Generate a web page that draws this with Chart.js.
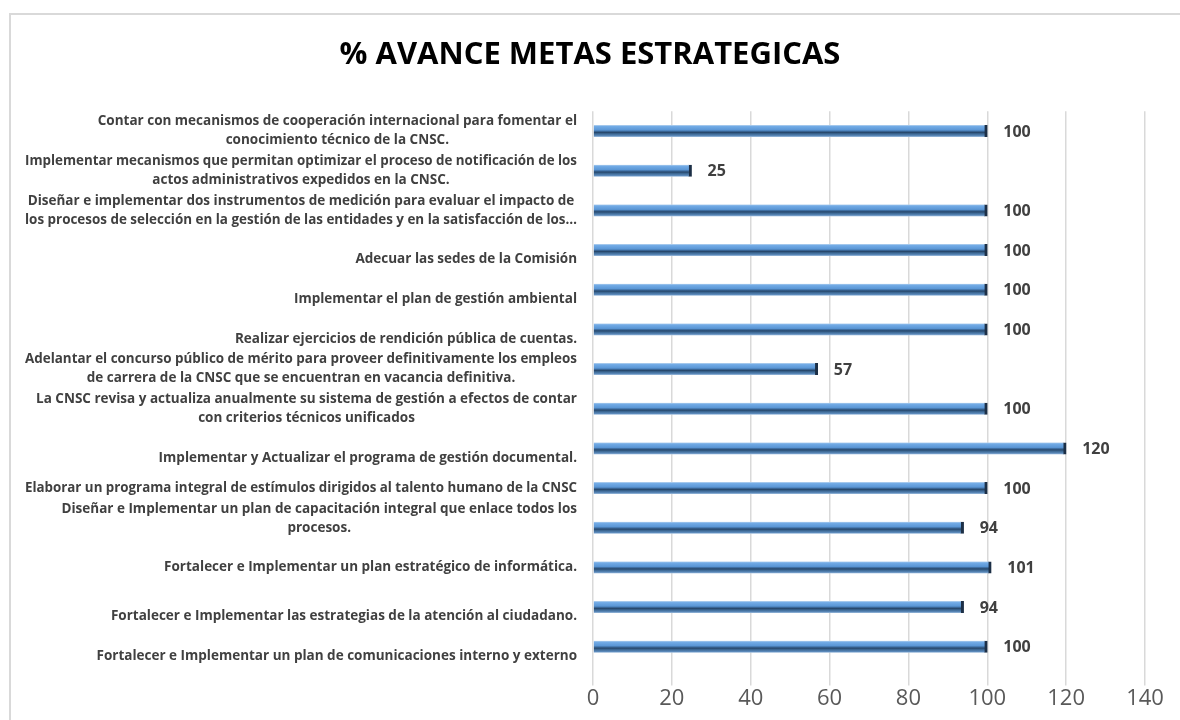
<!DOCTYPE html>
<html>
<head>
<meta charset="utf-8">
<script src="https://cdn.jsdelivr.net/npm/chart.js@4"></script>
<style>
  body { margin: 0; background: #fff; }
  #wrap { position: relative; width: 1180px; height: 720px; overflow: hidden; }
  #frame { position: absolute; left: 9px; top: 13px; width: 1200px; height: 740px;
           border-left: 2px solid #d9d9d9; border-top: 2px solid #d9d9d9; pointer-events: none; }
</style>
</head>
<body>
<div id="wrap">
  <canvas id="metasChart" width="1180" height="720"></canvas>
  <div id="frame"></div>
</div>
<script>
  // metas (las lineas vacias imitan la posicion de las etiquetas en el original)
  const metas = [
    ['Contar con mecanismos de cooperación internacional para fomentar el', 'conocimiento técnico de la CNSC.'],
    ['Implementar mecanismos que permitan optimizar el proceso de notificación de los', 'actos administrativos expedidos en la CNSC.'],
    ['Diseñar e implementar dos instrumentos de medición para evaluar el impacto de', 'los procesos de selección en la gestión de las entidades y en la satisfacción de los…'],
    ['', 'Adecuar las sedes de la Comisión'],
    ['', 'Implementar el plan de gestión ambiental'],
    ['', 'Realizar ejercicios de rendición pública de cuentas.'],
    ['Adelantar el concurso público de mérito para proveer definitivamente los empleos', 'de carrera de la CNSC que se encuentran en vacancia definitiva.'],
    ['La CNSC revisa y actualiza anualmente su sistema de gestión a efectos de contar', 'con criterios técnicos unificados'],
    ['', 'Implementar y Actualizar el programa de gestión documental.'],
    ['Elaborar un programa integral de estímulos dirigidos al talento humano de la CNSC'],
    ['Diseñar e Implementar un plan de capacitación integral que enlace todos los', 'procesos.', ''],
    ['Fortalecer e Implementar un plan estratégico de informática.'],
    ['', 'Fortalecer e Implementar las estrategias de la atención al ciudadano.'],
    ['', 'Fortalecer e Implementar un plan de comunicaciones interno y externo']
  ];
  const avance = [100, 25, 100, 100, 100, 100, 57, 100, 120, 100, 94, 101, 94, 100];
  const ejeMin = 0;
  const ejeMax = 140;
  const ejePaso = 20;

  const fuente = '"Open Sans", "Liberation Sans", sans-serif';

  // relleno tipo cilindro para cada barra
  function rellenoBarra(context) {
    const chart = context.chart;
    const y = chart.scales.y;
    if (!chart.chartArea || !y || context.type !== 'data') return '#5b9bd5';
    const c = y.getPixelForValue(context.dataIndex);
    if (!isFinite(c)) return '#5b9bd5';
    const g = chart.ctx.createLinearGradient(0, c - 6, 0, c + 6);
    g.addColorStop(0, '#b9d4ef');
    g.addColorStop(0.12, '#72abe6');
    g.addColorStop(0.42, '#5a96d5');
    g.addColorStop(0.52, '#3c6a9c');
    g.addColorStop(0.62, '#27486c');
    g.addColorStop(0.74, '#3d6995');
    g.addColorStop(0.9, '#5c8abb');
    g.addColorStop(1, '#adc8e4');
    return g;
  }

  // etiquetas de categoria centradas linea por linea
  const etiquetasMetas = {
    id: 'etiquetasMetas',
    afterDraw(chart) {
      const { ctx } = chart;
      const yScale = chart.scales.y;
      const derecha = chart.chartArea.left - 16;
      const alto = 19;
      const maximo = 552;
      ctx.save();
      ctx.font = 'bold 13.5px ' + fuente;
      ctx.fillStyle = '#404040';
      ctx.textAlign = 'center';
      ctx.textBaseline = 'middle';
      metas.forEach((lineas, i) => {
        const y = yScale.getPixelForTick(i);
        const ancho = Math.min(maximo, Math.max(...lineas.map(l => ctx.measureText(l).width)));
        const cx = derecha - ancho / 2;
        lineas.forEach((linea, j) => {
          if (!linea) return;
          ctx.fillText(linea, cx, y + (j - (lineas.length - 1) / 2) * alto, maximo);
        });
      });
      ctx.restore();
    }
  };

  // valores al final de cada barra
  const valoresBarras = {
    id: 'valoresBarras',
    afterDatasetsDraw(chart) {
      const { ctx } = chart;
      const meta = chart.getDatasetMeta(0);
      ctx.save();
      ctx.font = 'bold 16px ' + fuente;
      ctx.fillStyle = '#404040';
      ctx.textAlign = 'left';
      ctx.textBaseline = 'middle';
      meta.data.forEach((bar, i) => {
        ctx.fillText(String(avance[i]), bar.x + 16, bar.y + 1);
      });
      ctx.restore();
    }
  };

  const ctx = document.getElementById('metasChart').getContext('2d');
  const metasChart = new Chart(ctx, {
    type: 'bar',
    data: {
      labels: metas,
      datasets: [{
        data: avance,
        backgroundColor: rellenoBarra,
        borderColor: '#1c2f46',
        borderWidth: { top: 0, right: 3, bottom: 0, left: 0 },
        borderSkipped: false,
        barThickness: 12
      }]
    },
    options: {
      indexAxis: 'y',
      responsive: false,
      animation: false,
      layout: { padding: { left: 0, right: 0, top: 0, bottom: 8 } },
      plugins: {
        legend: { display: false },
        tooltip: { enabled: false },
        title: {
          display: true,
          text: '% AVANCE METAS ESTRATEGICAS',
          color: '#000000',
          font: { family: fuente, size: 31, weight: 'bold' },
          padding: { top: 37, bottom: 37 }
        }
      },
      scales: {
        x: {
          min: ejeMin,
          max: ejeMax,
          ticks: {
            stepSize: ejePaso,
            color: '#595959',
            padding: 0,
            font: { family: fuente, size: 22 }
          },
          grid: { color: '#d9d9d9', lineWidth: 1.5, tickLength: 19 },
          border: { display: false },
          afterFit(scale) { scale.paddingRight = 35; }
        },
        y: {
          ticks: { display: false },
          grid: { display: false },
          border: { display: false },
          afterFit(scale) { scale.width = 593; }
        }
      }
    },
    plugins: [etiquetasMetas, valoresBarras]
  });
</script>
</body>
</html>
